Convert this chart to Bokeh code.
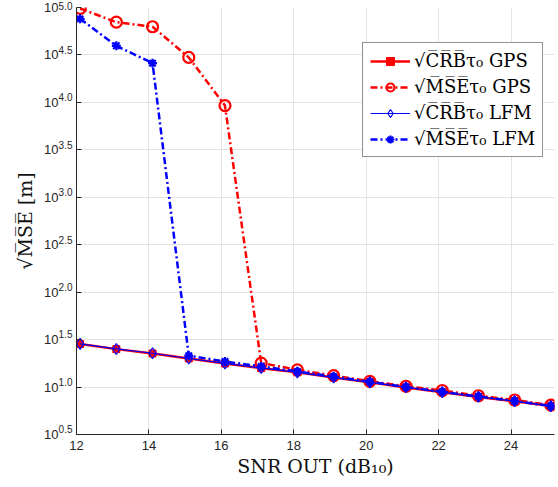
from bokeh.plotting import figure
from bokeh.models import (Range1d, FixedTicker, CustomJSTickFormatter, LogAxis,
                          Legend, LegendItem)
from bokeh.embed import file_html
from bokeh.resources import INLINE

# ---- data ----
snr = [12.1, 13.1, 14.1, 15.1, 16.1, 17.1, 18.1, 19.1, 20.1, 21.1, 22.1, 23.1, 24.1, 25.1]
crb_gps = [28.4, 25.1, 22.6, 20.0, 17.7, 15.8, 14.3, 12.6, 11.2, 9.9, 8.8, 7.85, 7.1, 6.3]
mse_gps = [97700, 70000, 62700, 29800, 9250, 17.9, 15.2, 13.2, 11.5, 10.2, 9.2, 8.1, 7.3, 6.45]
crb_lfm = [28.5, 25.2, 22.7, 20.0, 17.8, 15.9, 14.3, 12.6, 11.2, 9.95, 8.85, 7.9, 7.1, 6.3]
mse_lfm = [75900, 39500, 25900, 21.4, 18.6, 16.5, 14.6, 12.9, 11.35, 10.0, 8.9, 7.95, 7.13, 6.3]

x_ticks = [12, 14, 16, 18, 20, 22, 24]
y_ticks = [3.1623, 10, 31.623, 100, 316.23, 1000, 3162.3, 10000, 31623, 100000]
y_exponents = ["0.5", "1.0", "1.5", "2.0", "2.5", "3.0", "3.5", "4.0", "4.5", "5.0"]

labels = ["√C\u0305R\u0305B\u0305τ₀ GPS", "√M\u0305S\u0305E\u0305τ₀ GPS",
          "√C\u0305R\u0305B\u0305τ₀ LFM", "√M\u0305S\u0305E\u0305τ₀ LFM"]

AX = "#262626"
SANS = "Liberation Sans"
SERIF = "DejaVu Serif"

p = figure(width=558, height=487, output_backend="svg", toolbar_location=None,
           y_axis_type="log", x_range=Range1d(12, 25.2),
           y_range=Range1d(y_ticks[0], y_ticks[-1]),
           min_border_left=76, min_border_right=4, min_border_top=7,
           min_border_bottom=53)
p.outline_line_color = None
p.background_fill_color = "white"

# x axis
xa = p.xaxis[0]
xa.ticker = FixedTicker(ticks=x_ticks)
xa.axis_line_color = AX
xa.major_tick_line_color = AX
xa.major_tick_in = 5
xa.major_tick_out = 0
xa.minor_tick_line_color = None
xa.major_label_text_font = SANS
xa.major_label_text_font_size = "13px"
xa.major_label_text_color = AX
xa.major_label_standoff = 6
xa.axis_label = "SNR OUT (dB₁₀)"
xa.axis_label_standoff = 2
xa.axis_label_text_font = SERIF
xa.axis_label_text_font_style = "normal"
xa.axis_label_text_font_size = "19px"
xa.axis_label_text_color = "#111111"

# y axis (inner): exponents, raised as superscripts
ya = p.yaxis[0]
ya.ticker = FixedTicker(ticks=y_ticks)
ya.formatter = CustomJSTickFormatter(args=dict(tv=y_ticks, labs=y_exponents), code="""
let best = 0, bd = 1e9;
for (let i = 0; i < tv.length; i++) {
  const d = Math.abs(Math.log(tv[i]) - Math.log(tick));
  if (d < bd) { bd = d; best = i; }
}
return labs[best] + "\\n ";
""")
ya.axis_line_color = AX
ya.major_tick_line_color = AX
ya.major_tick_in = 5
ya.major_tick_out = 0
ya.minor_tick_line_color = None
ya.major_label_text_font = SANS
ya.major_label_text_font_size = "10px"
ya.major_label_text_line_height = 0.85
ya.major_label_text_color = AX
ya.major_label_standoff = 4

# y axis (outer): the base "10"
yb = LogAxis(ticker=FixedTicker(ticks=y_ticks),
             formatter=CustomJSTickFormatter(code="return '10';"))
yb.axis_line_color = None
yb.major_tick_line_color = None
yb.minor_tick_line_color = None
yb.major_tick_in = 0
yb.major_tick_out = 0
yb.major_label_text_font = SANS
yb.major_label_text_font_size = "13px"
yb.major_label_text_color = AX
yb.major_label_standoff = -3
yb.axis_label = "√M\u0305S\u0305E\u0305 [m]"
yb.axis_label_standoff = 5
yb.axis_label_text_font = SERIF
yb.axis_label_text_font_style = "normal"
yb.axis_label_text_font_size = "19px"
yb.axis_label_text_color = "#111111"
p.add_layout(yb, "left")

# grid
p.xgrid.grid_line_color = "#e3e3e3"
p.ygrid.grid_line_color = "#e3e3e3"
p.xgrid.ticker = FixedTicker(ticks=x_ticks)
p.ygrid.ticker = FixedTicker(ticks=y_ticks)
p.ygrid.minor_grid_line_color = None

RED = "#ff0000"
BLUE = "#0000ff"
DASH = "7 3 2 3"

l1 = p.line(snr, crb_gps, line_color=RED, line_width=2.5)
m1 = p.scatter(snr, crb_gps, marker="square", size=7, fill_color=RED, line_color=RED)

l2 = p.line(snr, mse_gps, line_color=RED, line_width=2.5, line_dash=DASH)
m2 = p.scatter(snr, mse_gps, marker="circle", size=11, fill_color=None,
               line_color=RED, line_width=2.2)

l3 = p.line(snr, crb_lfm, line_color=BLUE, line_width=1.2)
m3 = p.scatter(snr, crb_lfm, marker="diamond", size=11, fill_color=None,
               line_color=BLUE, line_width=1.2)

l4 = p.line(snr, mse_lfm, line_color=BLUE, line_width=2.5, line_dash=DASH)
m4 = p.scatter(snr, mse_lfm, marker="asterisk", size=9, line_color=BLUE, line_width=2.2)

legend = Legend(items=[LegendItem(label=labels[0], renderers=[l1, m1]),
                       LegendItem(label=labels[1], renderers=[l2, m2]),
                       LegendItem(label=labels[2], renderers=[l3, m3]),
                       LegendItem(label=labels[3], renderers=[l4, m4])],
                location=(286, 277))
legend.label_text_font = SERIF
legend.label_text_font_size = "18px"
legend.label_text_color = "black"
legend.label_height = 20
legend.glyph_height = 20
legend.glyph_width = 40
legend.label_standoff = 4
legend.spacing = 5
legend.padding = 7
legend.margin = 0
legend.border_line_color = AX
legend.border_line_width = 1
legend.background_fill_alpha = 1
p.add_layout(legend, "center")

open("out.html", "w").write(file_html(p, INLINE))
